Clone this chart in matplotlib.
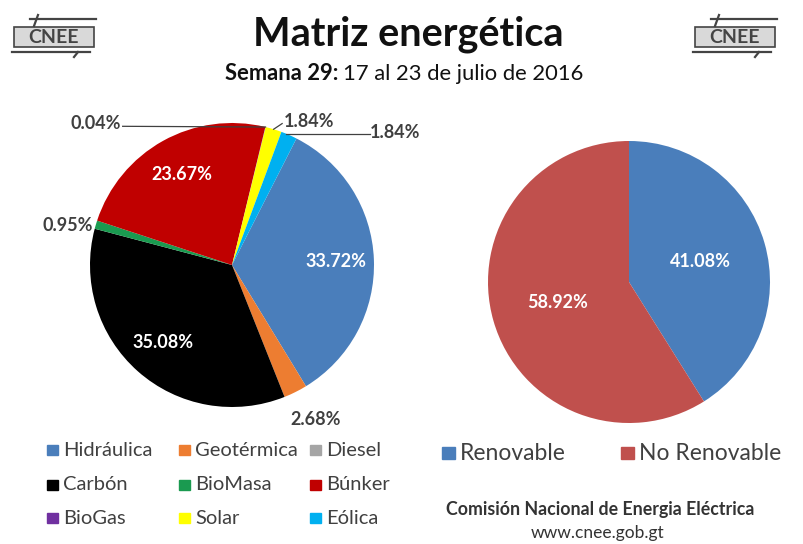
"""Matriz energetica CNEE - semana 29, julio 2016."""

import matplotlib
matplotlib.use("Agg")
import matplotlib.pyplot as plt
import matplotlib.patches as mpatches
import numpy as np

W, H = 804, 544

# ── Datos ─────────────────────────────────────────────────────────────────────
fuentes = ["Hidráulica", "Geotérmica", "Diesel", "Carbón", "BioMasa",
           "Búnker", "BioGas", "Solar", "Eólica"]
porcentajes = [33.72, 2.68, 0.0, 35.08, 0.95, 23.67, 0.04, 1.84, 1.84]
colores = ["#4a7ebb", "#ed7d31", "#a5a5a5", "#000000", "#1a9a50",
           "#c00000", "#7030a0", "#ffff00", "#00b0f0"]

tipos = ["Renovable", "No Renovable"]
tipo_pct = [41.08, 58.92]
tipo_colores = ["#4a7ebb", "#c0504d"]

FONT = ["Lato", "DejaVu Sans"]
GRIS = "#404040"


def px_axes(fig, x0, y0, w, h):
    return fig.add_axes([x0 / W, 1 - (y0 + h) / H, w / W, h / H])


def fx(x):
    return x / W


def fy(y):
    return 1 - y / H


fig = plt.figure(figsize=(W / 100, H / 100), dpi=100)
fig.patch.set_facecolor("white")

# ── Titulos ───────────────────────────────────────────────────────────────────
fig.text(fx(408), fy(34), "Matriz energética", ha="center", va="center",
         fontsize=28.5, fontweight="bold", family=FONT, color="#111111")
fig.text(fx(338), fy(74), "Semana 29:", ha="right", va="center",
         fontsize=15.8, fontweight="bold", family=FONT, color="#111111")
fig.text(fx(343), fy(74), "17 al 23 de julio de 2016", ha="left", va="center",
         fontsize=15.8, family=FONT, color="#111111")


# ── Logos CNEE (simplificado) ────────────────────────────────────────────────
def logo(x0):
    ln = dict(color="#444444", lw=1.6)
    fig.add_artist(plt.Line2D([fx(x0 + 18), fx(x0 + 84)], [fy(19), fy(19)], **ln))
    fig.add_artist(plt.Line2D([fx(x0 + 22), fx(x0 + 26)], [fy(26), fy(15)], **ln))
    fig.add_artist(plt.Line2D([fx(x0), fx(x0 + 78)], [fy(52), fy(52)], **ln))
    fig.add_artist(plt.Line2D([fx(x0 + 62), fx(x0 + 66)], [fy(57), fy(52)], **ln))
    fig.add_artist(mpatches.Rectangle((fx(x0 + 2), fy(47)), 80 / W, 20 / H,
                                      facecolor="#d9d9d9", edgecolor="#444444",
                                      lw=1.2, transform=fig.transFigure))
    fig.text(fx(x0 + 42), fy(37.5), "CNEE", ha="center", va="center",
             fontsize=14, fontweight="bold", family=FONT, color="#444444")


logo(12)
logo(693)

# ── Pastel izquierdo ─────────────────────────────────────────────────────────
ax1 = px_axes(fig, 90, 123, 284, 284)
wedges, _ = ax1.pie(porcentajes, colors=colores, startangle=63,
                    counterclock=False, normalize=True,
                    wedgeprops=dict(linewidth=0))
ax1.set_xlim(-1, 1)
ax1.set_ylim(-1, 1)


def mid(w):
    return np.deg2rad((w.theta1 + w.theta2) / 2)


# etiquetas dentro
for i in [0, 3, 5]:
    a = mid(wedges[i])
    ax1.text(0.73 * np.cos(a), 0.73 * np.sin(a), f"{porcentajes[i]:.2f}%",
             ha="center", va="center", color="white", fontsize=13,
             fontweight="bold", family=FONT)

# etiquetas fuera
lab = dict(fontsize=13, fontweight="bold", family=FONT, color=GRIS)
a = mid(wedges[1])
ax1.text(1.22 * np.cos(a) + 0.04, 1.22 * np.sin(a), f"{porcentajes[1]:.2f}%",
         ha="center", va="center", **lab)
a = mid(wedges[4])
ax1.text(1.02 * np.cos(a), 1.02 * np.sin(a) - 0.01, f"{porcentajes[4]:.2f}%",
         ha="right", va="center", **lab)

# BioGas con linea guia
a = mid(wedges[6])
ex, ey = np.cos(a), np.sin(a)
ax1.plot([-0.77, ex], [ey + 0.005, ey], color=GRIS, lw=0.9, clip_on=False)
ax1.text(-0.78, ey + 0.025, f"{porcentajes[6]:.2f}%", ha="right", va="center", **lab)
# Solar
a = mid(wedges[7])
ex, ey = np.cos(a), np.sin(a)
ax1.plot([ex, ex + 0.06], [ey, ey + 0.04], color=GRIS, lw=0.9, clip_on=False)
ax1.text(ex + 0.07, ey + 0.055, f"{porcentajes[7]:.2f}%", ha="left", va="center", **lab)
# Eolica
a = mid(wedges[8])
ex, ey = np.cos(a), np.sin(a)
ax1.plot([ex - 0.02, 0.97], [ey + 0.005, ey + 0.005], color=GRIS, lw=0.9, clip_on=False)
ax1.text(0.97, ey + 0.02, f"{porcentajes[8]:.2f}%", ha="left", va="center", **lab)

# ── Pastel derecho ───────────────────────────────────────────────────────────
ax2 = px_axes(fig, 488, 141, 282, 282)
wedges2, _ = ax2.pie(tipo_pct, colors=tipo_colores, startangle=90,
                     counterclock=False, wedgeprops=dict(linewidth=0))
ax2.set_xlim(-1, 1)
ax2.set_ylim(-1, 1)
for w, v in zip(wedges2, tipo_pct):
    a = mid(w)
    ax2.text(0.53 * np.cos(a), 0.53 * np.sin(a), f"{v:.2f}%", ha="center",
             va="center", color="white", fontsize=13, fontweight="bold", family=FONT)

# ── Leyendas ──────────────────────────────────────────────────────────────────
filas = [450, 485, 518]
cols = [47, 179, 310]
for k, (nombre, col) in enumerate(zip(fuentes, colores)):
    x, y = cols[k % 3], filas[k // 3]
    fig.add_artist(mpatches.Rectangle((fx(x), fy(y + 5)), 11 / W, 10 / H,
                                      color=col, transform=fig.transFigure))
    fig.text(fx(x + 16), fy(y), nombre, ha="left", va="center",
             fontsize=14.5, family=FONT, color=GRIS)

for x, nombre, col in zip([442, 621], tipos, tipo_colores):
    fig.add_artist(mpatches.Rectangle((fx(x), fy(459)), 13 / W, 12 / H,
                                      color=col, transform=fig.transFigure))
    fig.text(fx(x + 18), fy(453), nombre, ha="left", va="center",
             fontsize=16.5, family=FONT, color=GRIS)

fig.text(fx(600), fy(509), "Comisión Nacional de Energia Eléctrica", ha="center",
         va="center", fontsize=12.8, fontweight="bold", family=FONT, color="#333333")
fig.text(fx(598), fy(533), "www.cnee.gob.gt", ha="center", va="center",
         fontsize=12.5, family=FONT, color="#333333")

fig.savefig("out.png", dpi=100, facecolor="white")
